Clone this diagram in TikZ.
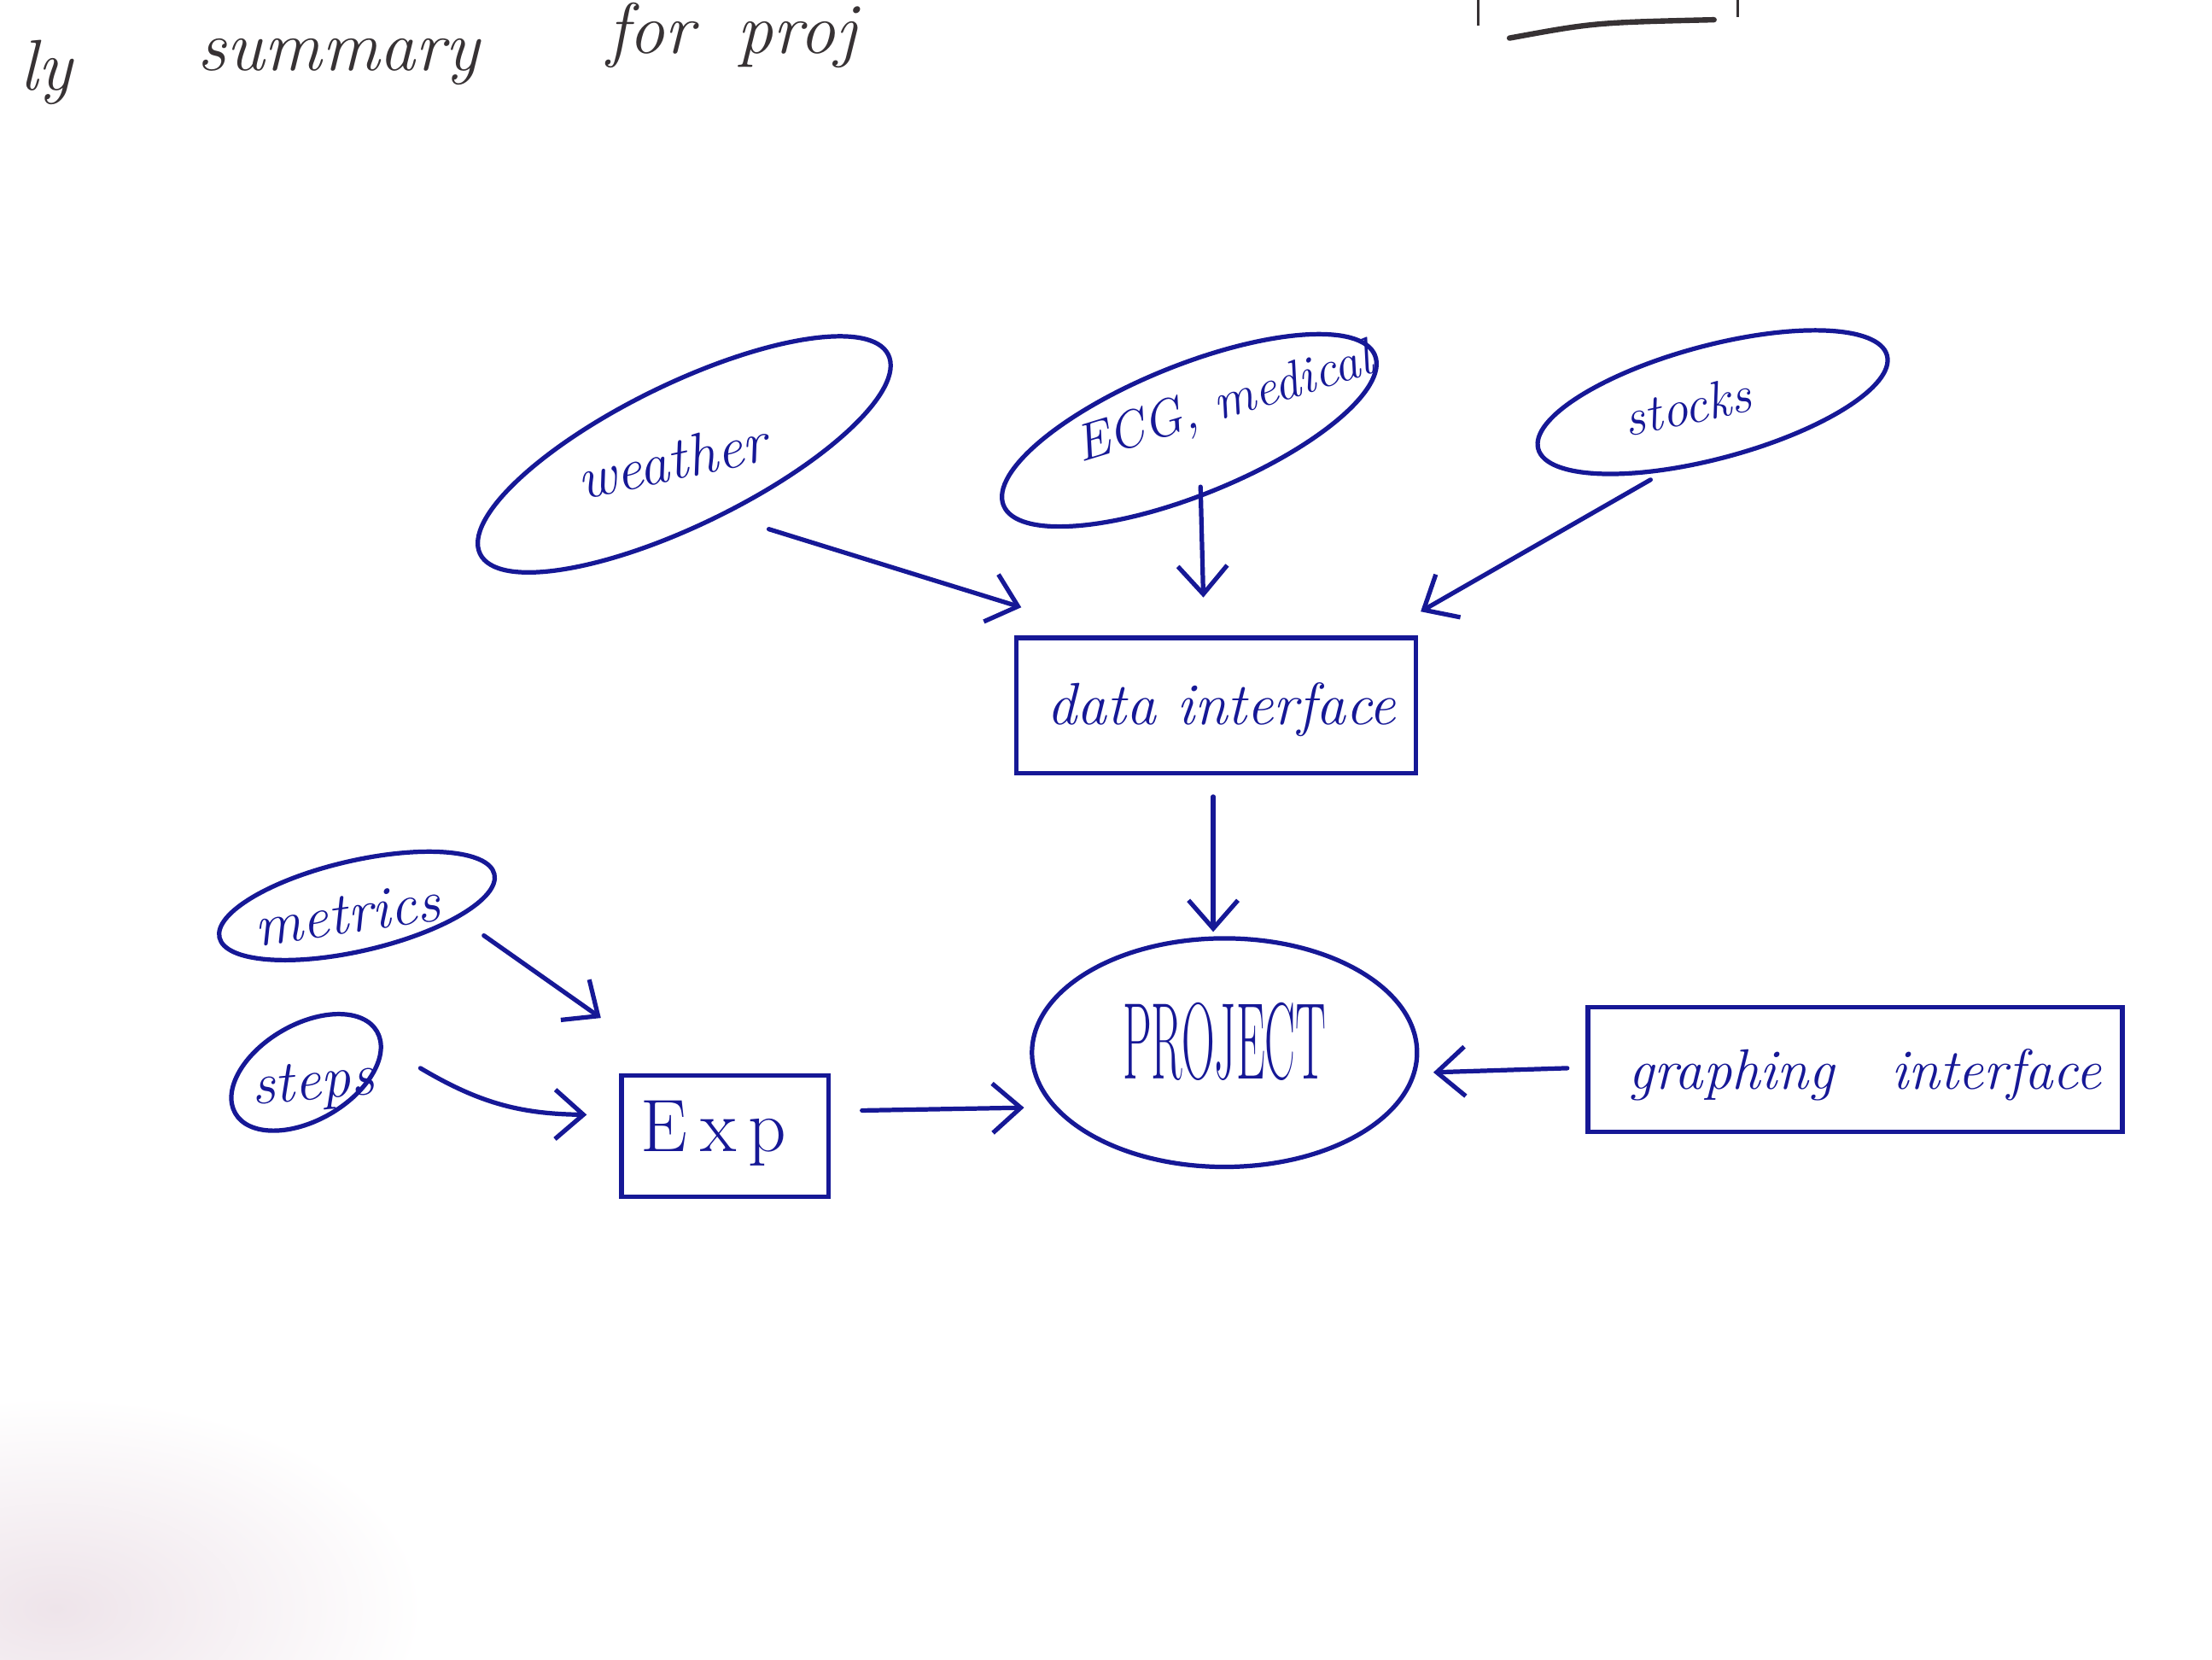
\documentclass[tikz,border=0pt]{standalone}
\usetikzlibrary{shapes.geometric, arrows.meta, calc}
\definecolor{ink}{RGB}{22,24,150}
\definecolor{pencil}{RGB}{55,50,52}
\definecolor{haze}{RGB}{238,228,234}

\begin{document}
\begin{tikzpicture}[x=0.02cm, y=-0.02cm,
  pen/.style={draw=ink, line width=1.8pt},
  bubble/.style={pen, ellipse, inner sep=0pt},
  boxnode/.style={pen, rectangle, inner sep=0pt},
  hand/.style={text=ink, inner sep=0pt, font=\fontsize{24}{26}\selectfont\itshape},
  smallhand/.style={hand, font=\fontsize{21}{23}\selectfont\itshape},
  arr/.style={draw=ink, line width=1.8pt, line cap=round,
    -{Straight Barb[length=4mm, width=7mm, line width=1.8pt]}},
  note/.style={text=pencil, inner sep=0pt, anchor=base west,
    font=\fontsize{29}{31}\selectfont\itshape}
]
\useasboundingbox (0,0) rectangle (1568,1176);
\clip (0,0) rectangle (1568,1176);
\fill[white] (0,0) rectangle (1568,1176);

% soft stain in the lower left corner of the sheet
\shade[inner color=haze, outer color=white] (40,1140) ellipse (260 and 150);

% heading line at the top of the page
\node[note] (n1) at (14,64) {ly};
\node[note] (n2) at (140,50) {summary};
\node[note] (n3) at (430,38) {for\hspace{0.6em}proj};
\draw[pencil, line width=2.2pt, line cap=round] (1070,27) .. controls (1130,16) .. (1215,14);
\draw[pencil, line width=1pt] (1048,-2) -- (1048,18);
\draw[pencil, line width=1pt] (1232,-2) -- (1232,12);

% data sources
\node[bubble, rotate=26, minimum width=6.44cm, minimum height=2.0cm] (w) at (485,322) {};
\node[hand, rotate=12] (wt) at (476,326) {weather};

\node[bubble, rotate=22, minimum width=5.68cm, minimum height=1.84cm] (e) at (843,305) {};
\node[smallhand, rotate=17] (et) at (868,287) {ECG, medical};

\node[bubble, rotate=15, minimum width=5.12cm, minimum height=1.6cm] (s) at (1214,285) {};
\node[smallhand, rotate=12] (stt) at (1196,288) {stocks};

% central boxes
\node[boxnode, minimum width=5.66cm, minimum height=1.92cm] (di) at (862,500) {};
\node[hand] (dit) at (866,503) {data interface};

\node[bubble, minimum width=5.46cm, minimum height=3.24cm] (P) at (868,746) {};
\node[text=ink, inner sep=0pt] (Pt) at (868,738)
  {\scalebox{0.42}[1]{\fontsize{44}{46}\selectfont PROJECT}};

\node[boxnode, minimum width=7.58cm, minimum height=1.76cm] (g) at (1315,758) {};
\node[hand, font=\fontsize{23}{25}\selectfont\itshape] (gt) at (1322,762) {graphing\hspace{1em}interface};

% experiment inputs
\node[bubble, rotate=13, minimum width=4.0cm, minimum height=1.28cm] (m) at (253,642) {};
\node[hand, rotate=8] (mt) at (246,648) {metrics};

\node[bubble, rotate=30, minimum width=2.32cm, minimum height=1.36cm] (st) at (217,760) {};
\node[hand, rotate=5] (stx) at (222,770) {steps};

\node[boxnode, minimum width=2.94cm, minimum height=1.72cm] (x) at (514,805) {};
\node[text=ink, inner sep=0pt, font=\fontsize{30}{32}\selectfont] (xt) at (506,803) {E\,x\,p};

% connectors
\draw[arr] ($(w)+(60,53)$) -- ($(di.north west)+(5,-20)$);
\draw[arr] ($(e)+(8,40)$) -- ($(di.north)+(-9,-27)$);
\draw[arr] ($(s)+(-44,55)$) -- ($(di.north east)+(2,-17)$);
\draw[arr] ($(di.south)+(-2,15)$) -- ($(P.north)+(-8,-3)$);
\draw[arr] ($(m)+(90,21)$) -- ($(x.north west)+(-13,-39)$);
\draw[arr] ($(st)+(81,-3)$) to[bend right=15] ($(x.west)+(-23,-15)$);
\draw[arr] ($(x.east)+(22,-18)$) -- ($(P.west)+(-4,39)$);
\draw[arr] ($(g.west)+(-13,-1)$) -- ($(P.east)+(10,14)$);
\end{tikzpicture}
\end{document}
